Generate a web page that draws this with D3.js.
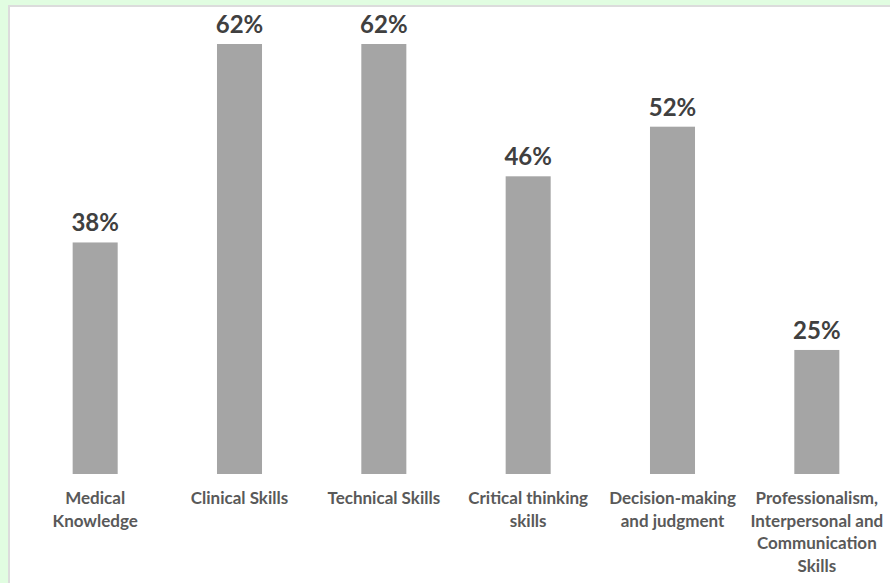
<!DOCTYPE html>
<html>
<head>
<meta charset="utf-8">
<script src="https://cdn.jsdelivr.net/npm/d3@7"></script>
<style>
  html, body { margin: 0; padding: 0; background: #e1fde1; }
  svg { display: block; }
</style>
</head>
<body>
<svg id="chart" width="890" height="583"></svg>
<script>
const categories = [
  "Medical Knowledge",
  "Clinical Skills",
  "Technical Skills",
  "Critical thinking skills",
  "Decision-making and judgment",
  "Professionalism, Interpersonal and Communication Skills"
];
const categoryLines = [
  ["Medical", "Knowledge"],
  ["Clinical Skills"],
  ["Technical Skills"],
  ["Critical thinking", "skills"],
  ["Decision-making", "and judgment"],
  ["Professionalism,", "Interpersonal and", "Communication", "Skills"]
];
const values = [38, 62, 62, 46, 52, 25];
const valueLabels = ["38%", "62%", "62%", "46%", "52%", "25%"];

const W = 890, H = 583;
const svg = d3.select("#chart");

// panel
svg.append("rect").attr("x", 8).attr("y", 5).attr("width", W - 8).attr("height", H - 5)
  .attr("fill", "#dcdcdc");
svg.append("rect").attr("x", 10).attr("y", 7).attr("width", W - 10).attr("height", H - 7)
  .attr("fill", "#ffffff");

const x = d3.scaleBand().domain(categories).range([23, 889]).paddingInner(0.688).paddingOuter(0.344);
const y = d3.scaleLinear().domain([10, 62]).range([474, 44]);

const g = svg.append("g");

g.selectAll("rect.bar").data(values).join("rect")
  .attr("class", "bar")
  .attr("x", (d, i) => x(categories[i]))
  .attr("width", x.bandwidth())
  .attr("y", d => y(d))
  .attr("height", d => y(y.domain()[0]) - y(d))
  .attr("fill", "#a5a5a5");

g.selectAll("text.val").data(values).join("text")
  .attr("class", "val")
  .attr("x", (d, i) => x(categories[i]) + x.bandwidth() / 2)
  .attr("y", d => y(d) - 11)
  .attr("text-anchor", "middle")
  .attr("font-family", "Lato, 'Open Sans', sans-serif")
  .attr("font-weight", "bold")
  .attr("font-size", 24)
  .attr("fill", "#404040")
  .text((d, i) => valueLabels[i]);

const axis = d3.axisBottom(x).tickSize(0).tickPadding(0);
const ag = g.append("g").attr("transform", `translate(0,${y(y.domain()[0])})`).call(axis);
ag.select(".domain").remove();
ag.selectAll(".tick text").each(function(d, i) {
  const t = d3.select(this);
  t.text(null)
   .attr("y", 30)
   .attr("dy", null)
   .attr("font-family", "Lato, 'Open Sans', sans-serif")
   .attr("font-weight", "bold")
   .attr("font-size", 17)
   .attr("fill", "#595959");
  categoryLines[i].forEach((line, k) => {
    t.append("tspan").attr("x", 0).attr("y", 30 + k * 22.5).text(line);
  });
});
</script>
</body>
</html>
